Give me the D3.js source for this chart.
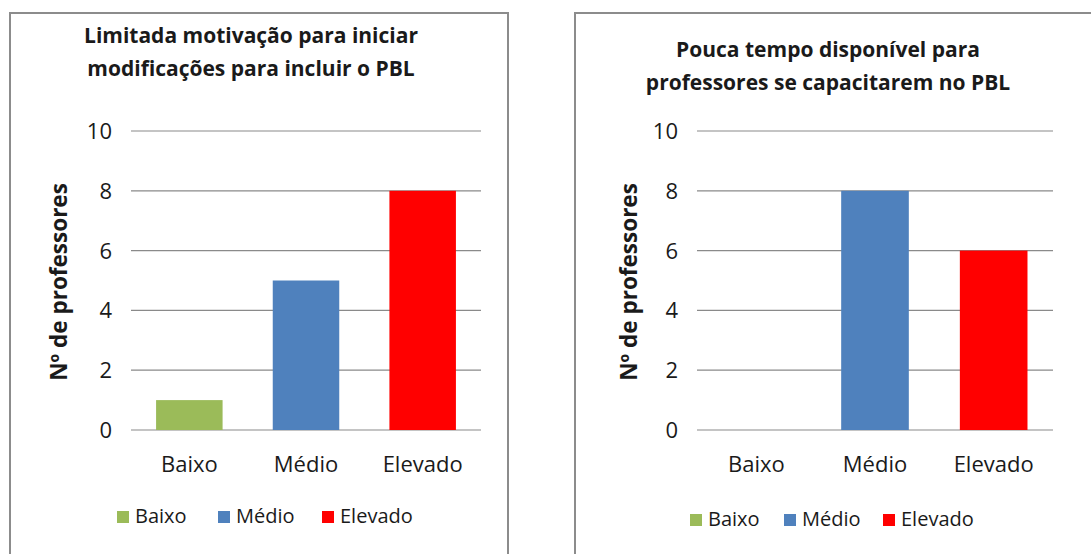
<!DOCTYPE html>
<meta charset="utf-8">
<script src="https://d3js.org/d3.v7.min.js"></script>
<style>
  body { margin: 0; background: #fff; }
  text { font-family: "Open Sans", sans-serif; fill: #1a1a1a; }
</style>
<div id="chart"></div>
<script>

// data
const categories = ["Baixo", "Médio", "Elevado"]
const colors = ["#9BBB59", "#4F81BD", "#FF0000"]
const motivacao = [1, 5, 8]
const tempo = [0, 8, 6]
const yTicks = [0, 2, 4, 6, 8, 10]
const titleMotivacao = ["Limitada motivação para iniciar", "modificações para incluir o PBL"]
const titleTempo = ["Pouca tempo disponível para", "professores se capacitarem no PBL"]
const yLabel = "Nº de professores"

const svg = d3.select("#chart")
  .append("svg")
    .attr("width", 1091)
    .attr("height", 554)

function drawPanel(p) {
  const g = svg.append("g")

  // panel frame
  g.append("rect")
    .attr("x", p.frame[0]).attr("y", p.frame[1])
    .attr("width", p.frame[2]).attr("height", p.frame[3])
    .attr("fill", "#fff").attr("stroke", "#8c8c8c").attr("stroke-width", 2)

  const x = d3.scaleBand()
    .domain(categories)
    .range([p.left, p.right])
    .paddingInner(0.43)
    .paddingOuter(0.215)

  const y = d3.scaleLinear()
    .domain([0, 10])
    .range([430, 131])

  // gridlines
  g.selectAll(".grid")
    .data(yTicks)
    .join("line")
      .attr("x1", p.left).attr("x2", p.right)
      .attr("y1", d => y(d)).attr("y2", d => y(d))
      .attr("stroke", "#8a8a8a").attr("stroke-width", 1.2)

  // y tick labels
  g.selectAll(".ytick")
    .data(yTicks)
    .join("text")
      .attr("x", p.left - 19)
      .attr("y", d => y(d))
      .attr("dy", "0.36em")
      .attr("text-anchor", "end")
      .style("font-size", "22px")
      .text(d => d)

  // bars
  g.selectAll(".bar")
    .data(p.values)
    .join("rect")
      .attr("x", (d, i) => x(categories[i]))
      .attr("width", x.bandwidth())
      .attr("y", d => y(d))
      .attr("height", d => y(0) - y(d))
      .attr("fill", (d, i) => colors[i])

  // x labels
  g.selectAll(".xlab")
    .data(categories)
    .join("text")
      .attr("x", d => x(d) + x.bandwidth() / 2)
      .attr("y", 472)
      .attr("text-anchor", "middle")
      .style("font-size", "22px")
      .text(d => d)

  // y axis title
  g.append("text")
    .attr("transform", `translate(${p.yTitleX},282) rotate(-90)`)
    .attr("text-anchor", "middle")
    .style("font-size", "22.5px")
    .style("font-weight", "bold")
    .text(yLabel)

  // chart title
  g.selectAll(".title")
    .data(p.title)
    .join("text")
      .attr("x", p.titleX)
      .attr("y", (d, i) => p.titleY + i * 33)
      .attr("text-anchor", "middle")
      .style("font-size", "21px")
      .style("font-weight", "bold")
      .text(d => d)

  // legend
  const leg = g.selectAll(".leg")
    .data(categories)
    .join("g")
      .attr("transform", (d, i) => `translate(${p.legendX[i]},${p.legendY})`)
  leg.append("rect")
    .attr("x", 0).attr("y", -12)
    .attr("width", 12).attr("height", 12)
    .attr("fill", (d, i) => colors[i])
  leg.append("text")
    .attr("x", 18).attr("y", 0)
    .style("font-size", "20px")
    .text(d => d)
}

drawPanel({
  frame: [10, 13, 498, 560],
  left: 131, right: 481,
  values: motivacao,
  yTitleX: 67,
  title: titleMotivacao, titleX: 251, titleY: 43,
  legendX: [117, 218, 322], legendY: 523
})

drawPanel({
  frame: [575, 13, 540, 560],
  left: 697, right: 1053,
  values: tempo,
  yTitleX: 637,
  title: titleTempo, titleX: 828, titleY: 57,
  legendX: [690, 784, 883], legendY: 526
})

</script>
